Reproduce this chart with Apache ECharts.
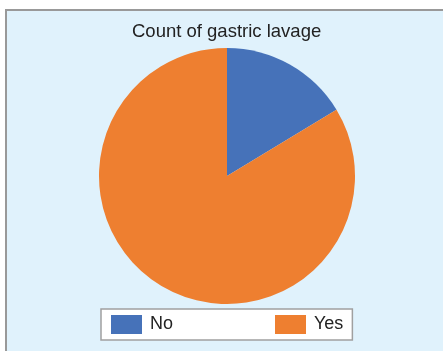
<!DOCTYPE html>
<html><head><meta charset="utf-8">
<style>html,body{margin:0;padding:0;background:#fff;}#c{width:443px;height:351px;}</style>
<script src="https://cdn.jsdelivr.net/npm/echarts@6/dist/echarts.min.js"></script>
</head><body><div id="c"></div>
<script>
const categories = ["No", "Yes"];
const values = [8, 41];
const colors = ["#4672b9", "#ee7f30"];
const chart = echarts.init(document.getElementById('c'), null, {renderer: 'canvas'});
chart.setOption({
  animation: false,
  backgroundColor: '#ffffff',
  graphic: [{
    type: 'rect', z: -10, silent: true,
    shape: {x: 6, y: 10, width: 460, height: 360},
    style: {fill: '#e0f2fc', stroke: '#999999', lineWidth: 2}
  }],
  title: {
    text: 'Count of gastric lavage', left: 132, top: 22, padding: 0,
    textStyle: {fontFamily: 'Liberation Sans', fontSize: 18.5, fontWeight: 'normal', color: '#222'}
  },
  legend: {
    data: categories, left: 101, top: 309, orient: 'horizontal',
    itemWidth: 31, itemHeight: 19, itemGap: 102,
    padding: [6, 9, 6, 10],
    backgroundColor: '#ffffff', borderColor: '#a0a0a0', borderWidth: 1.5,
    icon: 'rect',
    textStyle: {fontFamily: 'Liberation Sans', fontSize: 18, color: '#222', padding: [3, 0, 0, 3]}
  },
  series: [{
    type: 'pie', center: [227, 176], radius: 128, startAngle: 90, clockwise: true,
    label: {show: false}, labelLine: {show: false},
    itemStyle: {borderWidth: 0},
    emphasis: {disabled: true},
    data: categories.map((c, i) => ({name: c, value: values[i], itemStyle: {color: colors[i]}}))
  }]
});
</script></body></html>
